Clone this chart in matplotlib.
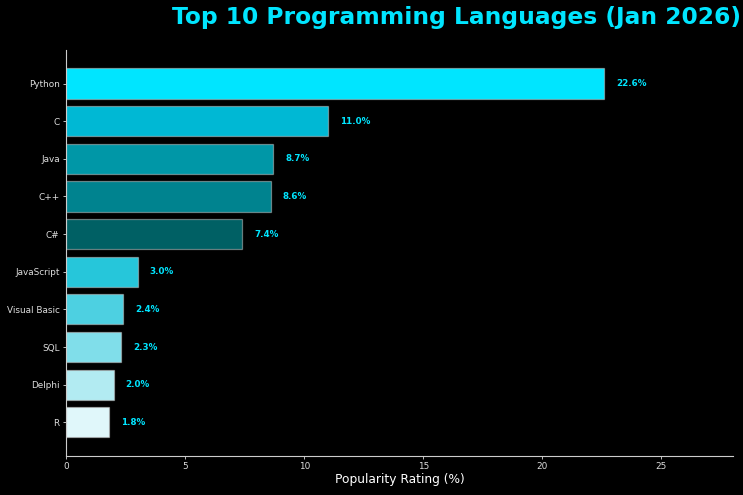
import matplotlib.pyplot as plt

# Data
languages = ['Python', 'C', 'Java', 'C++', 'C#', 'JavaScript', 'Visual Basic', 'SQL', 'Delphi', 'R']
ratings = [22.6, 11.0, 8.7, 8.6, 7.4, 3.0, 2.4, 2.3, 2.0, 1.8]
colors = ['#00E5FF', '#00B8D4', '#0097A7', '#00838F', '#006064',
          '#26C6DA', '#4DD0E1', '#80DEEA', '#B2EBF2', '#E0F7FA']

plt.style.use('dark_background')
fig, ax = plt.subplots(figsize=(7.43, 4.95), dpi=100)
fig.patch.set_facecolor('black')
ax.set_facecolor('black')

bars = ax.barh(languages, ratings, color=colors, edgecolor=(0.8, 0.8, 0.8, 0.5), linewidth=0.9)
ax.invert_yaxis()

# Value labels
for b, v in zip(bars, ratings):
    ax.text(v + 0.5, b.get_y() + b.get_height() / 2, f'{v:.1f}%',
            va='center', ha='left', color='#00E5FF', fontsize=6.3, fontweight='bold')

ax.set_xlim(0, max(ratings) * 1.24)
ax.set_title('Top 10 Programming Languages (Jan 2026)', color='#00E5FF',
             fontsize=16.8, fontweight='bold', x=0.585, pad=18.5)
ax.set_xlabel('Popularity Rating (%)', fontsize=8.8, color='white', labelpad=1)
ax.tick_params(colors='#dddddd', labelsize=6.4, length=2.5, width=0.6, pad=2.2)
ax.spines['top'].set_visible(False)
ax.spines['right'].set_visible(False)
for s in ('left', 'bottom'):
    ax.spines[s].set_color('#cccccc')
    ax.spines[s].set_linewidth(0.8)

plt.subplots_adjust(left=0.089, right=0.987, top=0.899, bottom=0.079)
plt.savefig('out.png', dpi=100, facecolor='black')
